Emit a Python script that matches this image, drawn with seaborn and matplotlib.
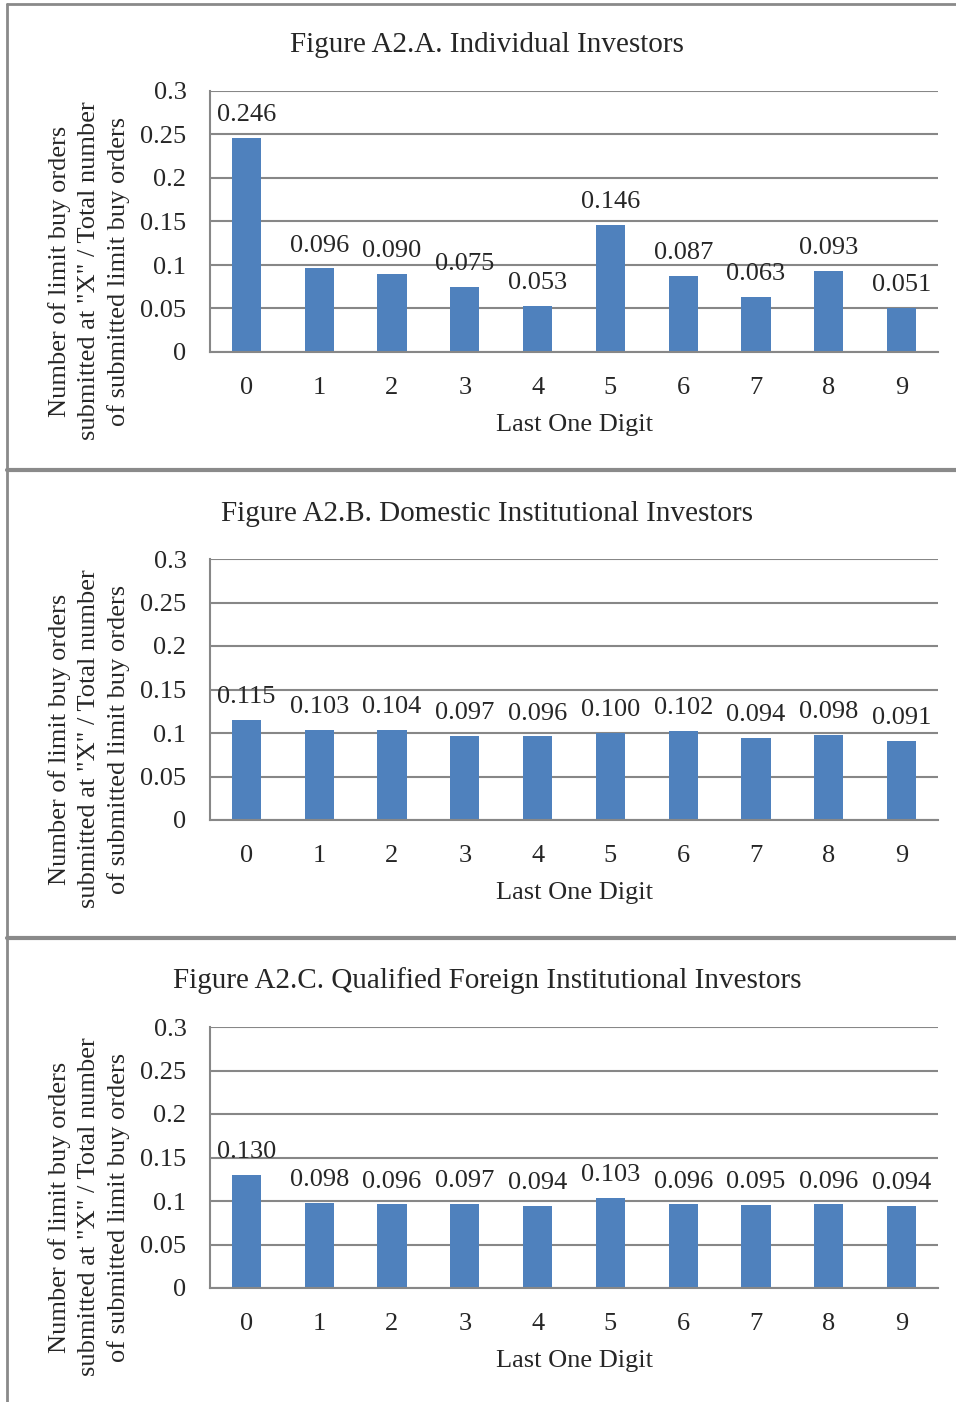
import matplotlib
matplotlib.use("Agg")
import matplotlib.pyplot as plt
from matplotlib.lines import Line2D
from matplotlib.ticker import FuncFormatter, MultipleLocator
import seaborn as sns
import pandas as pd

digits = ["0", "1", "2", "3", "4", "5", "6", "7", "8", "9"]
individual = [0.246, 0.096, 0.090, 0.075, 0.053, 0.146, 0.087, 0.063, 0.093, 0.051]
domestic = [0.115, 0.103, 0.104, 0.097, 0.096, 0.100, 0.102, 0.094, 0.098, 0.091]
qfii = [0.130, 0.098, 0.096, 0.097, 0.094, 0.103, 0.096, 0.095, 0.096, 0.094]
titles = ["Figure A2.A. Individual Investors",
          "Figure A2.B. Domestic Institutional Investors",
          "Figure A2.C. Qualified Foreign Institutional Investors"]
ylabel = 'Number of limit buy orders\nsubmitted at "X" / Total number\nof submitted limit buy orders'
xlabel = "Last One Digit"

sns.set_theme(style="white")
plt.rcParams['font.family'] = ['Liberation Serif', 'DejaVu Serif']
FS = 19
TFS = 21
BAR = "#4F81BD"
GRID = "#878787"

W, H = 956, 1402
fig = plt.figure(figsize=(W / 100, H / 100), dpi=100)

bottoms_px = [352, 820, 1288]
title_px = [45, 514, 981]
series = [individual, domestic, qfii]

for vals, bpx, tpx, title in zip(series, bottoms_px, title_px, titles):
    ax = fig.add_axes([210 / W, 1 - bpx / H, 728 / W, 261 / H])
    df = pd.DataFrame({"digit": digits, "value": vals})
    sns.barplot(data=df, x="digit", y="value", ax=ax, color=BAR,
                width=0.4, saturation=1, edgecolor="none")
    ax.set_ylim(0, 0.3)
    ax.set_xlim(-0.5, 9.5)
    ax.yaxis.set_major_locator(MultipleLocator(0.05))
    ax.yaxis.set_major_formatter(FuncFormatter(lambda v, p: f"{v:.2f}".rstrip("0").rstrip(".") if v else "0"))
    ax.grid(axis="y", color=GRID, linewidth=1.5)
    ax.set_axisbelow(True)
    for s in ["top", "right"]:
        ax.spines[s].set_visible(False)
    for s in ["left", "bottom"]:
        ax.spines[s].set_color(GRID)
        ax.spines[s].set_linewidth(1.5)
    ax.tick_params(axis="y", length=0, pad=17, labelsize=FS)
    ax.tick_params(axis="x", length=0, pad=18, labelsize=FS)
    ax.set_xlabel(xlabel, fontsize=FS, labelpad=11)
    ax.set_ylabel(ylabel, fontsize=FS, linespacing=1.42, va="center", ha="center")
    ax.yaxis.set_label_coords(-0.166, 0.31)
    for i, v in enumerate(vals):
        ax.annotate(f"{v:.3f}", (i, v), xytext=(0, 16.5), textcoords="offset points",
                    ha="center", va="center", fontsize=FS)
    fig.text(487 / W, 1 - tpx / H, title, ha="center", va="center", fontsize=TFS)

BORDER = "#8a8a8a"
def fline(x0, y0, x1, y1, lw):
    fig.add_artist(Line2D([x0 / W, x1 / W], [1 - y0 / H, 1 - y1 / H],
                          transform=fig.transFigure, color=BORDER, linewidth=lw))

fline(7, 4, W, 4, 2)
fline(7, 4, 7, H, 2)
fline(7, 470, W, 470, 3)
fline(7, 938, W, 938, 3)

fig.savefig("out.png", dpi=100)
